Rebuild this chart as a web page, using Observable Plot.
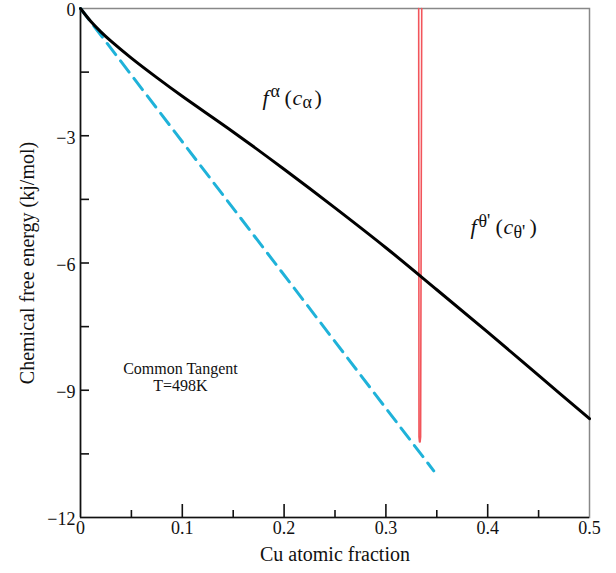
<!DOCTYPE html>
<html>
<head>
<meta charset="utf-8">
<script src="https://cdn.jsdelivr.net/npm/d3@7"></script>
<script src="https://cdn.jsdelivr.net/npm/@observablehq/plot@0.6"></script>
<style>
  html, body { margin: 0; padding: 0; background: #fff; }
</style>
</head>
<body>
<div id="chart"></div>
<script>
// Black curve: chemical free energy of alpha phase
const cuFraction = [0, 0.01, 0.02, 0.03, 0.05, 0.075, 0.1, 0.15, 0.2, 0.25, 0.3, 0.35, 0.4, 0.45, 0.5];
const alphaEnergy = [0, -0.30, -0.55, -0.77, -1.17, -1.63, -2.07, -2.91, -3.79, -4.70, -5.64, -6.63, -7.63, -8.65, -9.67];

// Blue dashed common tangent
const tangentX = [0, 0.347];
const tangentY = [0, -10.9];

// Red theta' free energy well (very narrow)
const thetaX = [0.3322, 0.3325, 0.3330, 0.3336, 0.3341, 0.3352];
const thetaY = [0, -10.1, -10.22, -10.22, -10.1, 0];

// Ticks
const xMajor = [0.1, 0.2, 0.3, 0.4];
const xMinor = [0.05, 0.15, 0.25, 0.35, 0.45];
const xLabels = [0, 0.1, 0.2, 0.3, 0.4, 0.5];
const yMajor = [-3, -6, -9];
const yMinor = [-1.5, -4.5, -7.5, -10.5];
const yLabels = [0, -3, -6, -9, -12];

const xTitle = "Cu atomic fraction";
const yTitle = "Chemical free energy (kj/mol)";
const noteLines = ["Common Tangent", "T=498K"];

const alpha = cuFraction.map((x, i) => ({x, y: alphaEnergy[i]}));
const tangent = tangentX.map((x, i) => ({x, y: tangentY[i]}));
const theta = thetaX.map((x, i) => ({x, y: thetaY[i]}));

// Math-like labels built from pieces
const alphaLabelPos = {x: 0.1788, y: -2.10};
const alphaPieces = [
  {t: "f", dx: 0, dy: 0, size: 22, italic: true},
  {t: "α", dx: 8, dy: -6, size: 18, italic: false},
  {t: "(", dx: 22, dy: 0, size: 22, italic: false},
  {t: "c", dx: 30, dy: 0, size: 22, italic: true},
  {t: "α", dx: 40, dy: 5, size: 18, italic: false},
  {t: ")", dx: 52, dy: 0, size: 22, italic: false}
];
const thetaLabelPos = {x: 0.383, y: -5.16};
const thetaPieces = [
  {t: "f", dx: 0, dy: 0, size: 22, italic: true},
  {t: "θ'", dx: 8, dy: -6, size: 18, italic: false},
  {t: "(", dx: 25, dy: 0, size: 22, italic: false},
  {t: "c", dx: 33, dy: 0, size: 22, italic: true},
  {t: "θ'", dx: 43, dy: 5, size: 18, italic: false},
  {t: ")", dx: 59, dy: 0, size: 22, italic: false}
];

function pieceMarks(pos, pieces) {
  return pieces.map(p => Plot.text([pos], {
    x: "x", y: "y", text: () => p.t, dx: p.dx, dy: p.dy,
    textAnchor: "start", fontSize: p.size,
    fontStyle: p.italic ? "italic" : "normal", fill: "#111"
  }));
}

const plotW = 616 - 80 - 27;
const plotH = 573 - 8 - 56;

const chart = Plot.plot({
  width: 616,
  height: 573,
  marginTop: 8,
  marginBottom: 56,
  marginLeft: 80,
  marginRight: 27,
  style: {fontFamily: "'Liberation Serif', 'Times New Roman', serif", fontSize: "18px", color: "#111", background: "#fff"},
  x: {domain: [0, 0.5]},
  y: {domain: [-12, 0]},
  marks: [
    Plot.frame({stroke: "#888", strokeWidth: 1.5}),
    Plot.ruleX([0], {stroke: "#111", strokeWidth: 1.6}),
    Plot.ruleY([-12], {stroke: "#111", strokeWidth: 1.6}),
    Plot.tickX(xMajor, {x: d => d, insetTop: plotH - 13, stroke: "#111", strokeWidth: 1.6}),
    Plot.tickX(xMinor, {x: d => d, insetTop: plotH - 7, stroke: "#111", strokeWidth: 1.6}),
    Plot.tickY(yMajor, {y: d => d, insetRight: plotW - 9, stroke: "#111", strokeWidth: 1.6}),
    Plot.tickY(yMinor, {y: d => d, insetRight: plotW - 9, stroke: "#111", strokeWidth: 1.6}),
    Plot.axisX({ticks: xLabels, tickSize: 0, tickPadding: 4, label: null, tickFormat: d => String(d), fontSize: 18}),
    Plot.axisY({ticks: yLabels, tickSize: 0, tickPadding: 5, dy: 2, label: null, fontSize: 18}),
    Plot.text([xTitle], {frameAnchor: "bottom", dy: 37, lineAnchor: "middle", text: d => d, fontSize: 20, fill: "#111"}),
    Plot.text([yTitle], {frameAnchor: "left", dx: -53, rotate: -90, textAnchor: "middle", text: d => d, fontSize: 20, fill: "#111"}),
    Plot.line(tangent, {x: "x", y: "y", stroke: "#1fb2d9", strokeWidth: 3, strokeDasharray: "14,8"}),
    Plot.line(theta, {x: "x", y: "y", stroke: "#f2555b", strokeWidth: 1.6}),
    Plot.line(alpha, {x: "x", y: "y", stroke: "#000", strokeWidth: 3, curve: "catmull-rom"}),
    Plot.text([{x: 0.0982, y: -8.49}], {x: "x", y: "y", text: () => noteLines[0], fontSize: 16, fill: "#111"}),
    Plot.text([{x: 0.0982, y: -8.89}], {x: "x", y: "y", text: () => noteLines[1], fontSize: 16, fill: "#111"}),
    ...pieceMarks(alphaLabelPos, alphaPieces),
    ...pieceMarks(thetaLabelPos, thetaPieces)
  ]
});
document.getElementById("chart").appendChild(chart);
</script>
</body>
</html>
